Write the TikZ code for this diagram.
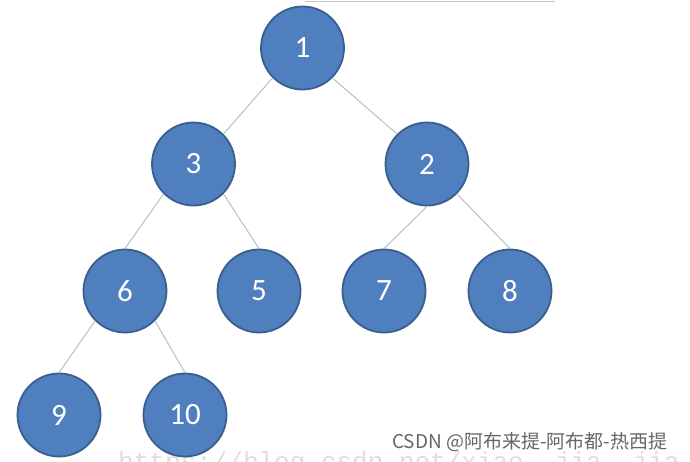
\documentclass[tikz,border=0pt]{standalone}
\usepackage{fontspec}
\setmainfont{Carlito}
\newfontfamily\cjkfont{Noto Sans CJK SC}
\newfontfamily\urlfont{Liberation Mono}
\definecolor{nodefill}{HTML}{4F7FBE}
\definecolor{nodeborder}{HTML}{3A5F8E}
\definecolor{edgecol}{HTML}{B4C0D2}
\begin{document}
\begin{tikzpicture}[x=1pt,y=1pt,
  treenode/.style={circle,fill=nodefill,draw=nodeborder,line width=1.8pt,minimum size=83pt,inner sep=0pt,text=white,font=\fontsize{31}{34}\selectfont},
  edge/.style={draw=edgecol,line width=1pt}]
\clip (0,0) rectangle (690,-461);
\fill[white] (0,0) rectangle (690,-461);
% faint frame edge at top
\draw[color=black!22,line width=1.2pt] (305,-1.5) -- (555,-1.5);
% watermark url
\node[anchor=base west,inner sep=0pt,text=black!13,font=\urlfont\fontsize{26}{28}\selectfont] (url) at (118,-470) {https://blog.csdn.net/xiao\_\_jia\_\_jia};
% nodes
\node[treenode] (n1) at (302.5,-48) {1};
\node[treenode] (n3) at (193.5,-164) {3};
\node[treenode] (n2) at (427,-164) {2};
\node[treenode] (n6) at (125,-291) {6};
\node[treenode] (n5) at (259,-291) {5};
\node[treenode] (n7) at (384,-291) {7};
\node[treenode] (n8) at (510,-291) {8};
\node[treenode] (n9) at (59,-415) {9};
\node[treenode] (n10) at (185,-415) {10};
% edges
\path[edge] (n1.south west) -- (n3.north east);
\path[edge] (n1.south east) -- (n2.north west);
\path[edge] (n3.south west) -- (n6.north);
\path[edge] (n3.south east) -- (n5.north);
\path[edge] (n2.south) -- (n7.north);
\path[edge] (n2.south east) -- (n8.north);
\path[edge] (n6.south west) -- (n9.north);
\path[edge] (n6.south east) -- (n10.north);
% csdn label
\node[anchor=base west,inner sep=0pt,text=black!60,font=\cjkfont\fontsize{19}{21}\selectfont] (csdn) at (392,-448) {CSDN @阿布来提-阿布都-热西提};
\end{tikzpicture}
\end{document}
